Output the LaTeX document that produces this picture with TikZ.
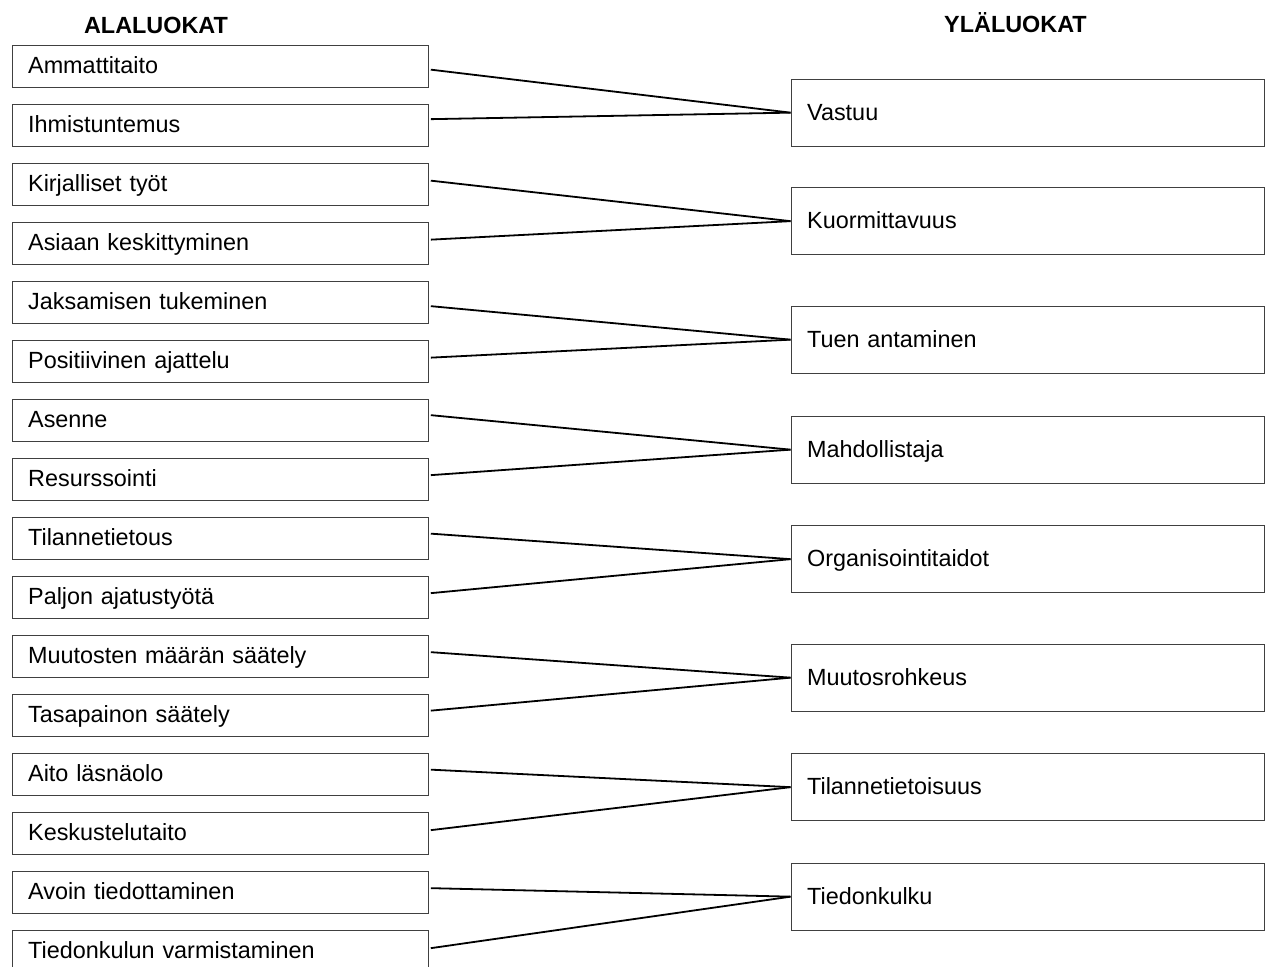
\documentclass[tikz,border=0pt]{standalone}
\usepackage{fontspec}
\setmainfont{Liberation Sans}
\begin{document}
\begin{tikzpicture}[x=1pt,y=-1pt,
  every node/.style={font=\fontsize{23.4}{28}\selectfont},
  subbox/.style={draw=black!75, line width=1.3pt, rectangle, anchor=north west,
    text width=384pt, inner xsep=16pt, inner ysep=0pt, minimum height=42pt,
    align=left, text height=19.2pt, text depth=4.2pt},
  supbox/.style={draw=black!75, line width=1.3pt, rectangle, anchor=north west,
    text width=441.5pt, inner xsep=16pt, inner ysep=0pt, minimum height=67pt,
    align=left, text height=19.2pt, text depth=4.2pt},
  header/.style={anchor=base, font=\fontsize{23.4}{28}\selectfont\bfseries},
  conn/.style={draw=black, line width=1.8pt}]
\useasboundingbox (0,0) rectangle (1270,967);

% column headers
\node[header] (hsub) at (156,33) {ALALUOKAT};
\node[header] (hsup) at (1015.5,32) {YLÄLUOKAT};

% subcategories (left column)
\foreach \i/\t in {1/Ammattitaito, 2/Ihmistuntemus, 3/Kirjalliset työt,
  4/Asiaan keskittyminen, 5/Jaksamisen tukeminen, 6/Positiivinen ajattelu,
  7/Asenne, 8/Resurssointi, 9/Tilannetietous, 10/Paljon ajatustyötä,
  11/Muutosten määrän säätely, 12/Tasapainon säätely, 13/Aito läsnäolo,
  14/Keskustelutaito, 15/Avoin tiedottaminen, 16/Tiedonkulun varmistaminen}
  \node[subbox] (l\i) at (11.5, {44.5+59*(\i-1)}) {\t};

% main categories (right column)
\foreach \i/\y/\t in {1/78.5/Vastuu, 2/187/Kuormittavuus, 3/305.5/Tuen antaminen,
  4/415.5/Mahdollistaja, 5/525/Organisointitaidot, 6/643.5/Muutosrohkeus,
  7/753/Tilannetietoisuus, 8/862.5/Tiedonkulku}
  \node[supbox] (r\i) at (790.5,\y) {\t};

% links from subcategories to main categories
\foreach \a/\b/\d in {1/1/-3.5, 2/1/6, 3/2/3.5, 4/2/3.5, 5/3/-4, 6/3/3.5,
  7/4/5, 8/4/4, 9/5/4.5, 10/5/4, 11/6/4, 12/6/4.5, 13/7/4.5, 14/7/3,
  15/8/4, 16/8/3}
  \draw[conn] ([xshift=2pt,yshift=\d pt]l\a.east) -- (r\b.west);
\end{tikzpicture}
\end{document}
